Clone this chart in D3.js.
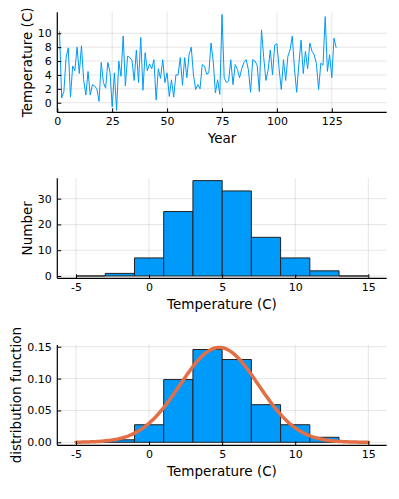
<!DOCTYPE html>
<html>
<head>
<meta charset="utf-8">
<script src="https://cdn.jsdelivr.net/npm/d3@7"></script>
<style>
  html, body { margin: 0; padding: 0; background: #fff; }
  svg { display: block; font-family: "DejaVu Sans", sans-serif; }
</style>
</head>
<body>
<svg id="chart" width="399" height="499"></svg>
<script>
// ---------- data ----------
const years = d3.range(1, 128);
const temperatures = [
  10.3, 0.7, 1.6, 6.5, 7.9, 0.8, 5.3, 4.6, 8.0, 4.2,
  8.2, 3.3, 1.1, 4.5, 1.1, 2.6, 2.4, 2.0, 0.2, 5.8,
  2.9, 2.1, 5.8, 4.4, -0.6, 4.3, -1.1, 6.0, 3.8, 9.6,
  2.4, 6.7, 6.5, 6.1, 3.2, 7.6, 2.9, 9.4, 1.8, 7.2,
  4.6, 5.6, 4.9, 6.2, 0.4, 4.9, 3.5, 6.2, 2.9, 4.3,
  0.9, 3.3, 0.8, 4.0, 4.0, 6.5, 2.5, 6.5, 3.6, 6.9,
  8.0, 4.0, 1.9, 2.6, 2.0, 5.5, 5.3, 4.1, 4.3, 8.6,
  6.0, 1.4, 3.3, 1.2, 12.7, 3.6, 2.9, 3.1, 6.2, 2.6,
  5.5, 4.8, 3.6, 4.9, 5.8, 6.2, 4.8, 1.5, 6.2, 6.0,
  5.4, 1.6, 10.5, 6.5, 3.2, 4.7, 7.6, 4.0, 8.3, 8.5,
  4.9, 1.9, 6.2, 3.2, 6.7, 7.6, 9.6, 4.9, 1.5, 5.6,
  9.0, 4.2, 7.4, 4.9, 8.6, 7.4, 6.9, 5.6, 1.9, 5.7,
  5.4, 12.4, 4.5, 6.9, 3.6, 9.3, 7.9
];
const binEdges = [-5, -3, -1, 1, 3, 5, 7, 9, 11, 13, 15];
const fitMean = 4.8;
const fitStd = 2.68;

const yearTicks = [0, 25, 50, 75, 100, 125];
const tempTicks = [0, 2, 4, 6, 8, 10];
const histXTicks = [-5, 0, 5, 10, 15];
const countTicks = [0, 10, 20, 30];
const densityTicks = [0, 0.05, 0.10, 0.15];

// ---------- style ----------
const C1 = "#009AFA", C2 = "#E26F46";
const svg = d3.select("#chart");
const X0 = 57.3, X1 = 386.7;

function panel(xScale, yScale, xTicks, yTicks, yFmt, xLabel, yLabel, yLabelX) {
  const g = svg.append("g");
  const top = yScale.range()[1], bottom = yScale.range()[0];
  // grid
  g.append("g").selectAll("line").data(xTicks).join("line")
    .attr("x1", d => xScale(d)).attr("x2", d => xScale(d))
    .attr("y1", top).attr("y2", bottom)
    .attr("stroke", "#000").attr("stroke-opacity", 0.1).attr("stroke-width", 1);
  g.append("g").selectAll("line").data(yTicks).join("line")
    .attr("x1", X0).attr("x2", X1)
    .attr("y1", d => yScale(d)).attr("y2", d => yScale(d))
    .attr("stroke", "#000").attr("stroke-opacity", 0.1).attr("stroke-width", 1);
  const marks = g.append("g");
  // axes
  const ax = g.append("g").attr("transform", `translate(0,${bottom})`)
    .call(d3.axisBottom(xScale).tickValues(xTicks).tickSize(-4).tickPadding(5).tickFormat(d3.format("d")));
  const ay = g.append("g").attr("transform", `translate(${X0},0)`)
    .call(d3.axisLeft(yScale).tickValues(yTicks).tickSize(-4).tickPadding(5.5).tickFormat(yFmt));
  [ax, ay].forEach(a => {
    a.select(".domain").remove();
    a.selectAll(".tick line").attr("stroke", "#000").attr("stroke-width", 1);
    a.selectAll("text").attr("font-size", 11).attr("fill", "#000")
      .attr("font-family", "DejaVu Sans, sans-serif");
  });
  ax.selectAll("text").text(d => d < 0 ? "-" + Math.abs(d) : d);
  // frame lines (left & bottom)
  g.append("line").attr("x1", X0).attr("x2", X1).attr("y1", bottom).attr("y2", bottom)
    .attr("stroke", "#000").attr("stroke-width", 1.2);
  g.append("line").attr("x1", X0).attr("x2", X0).attr("y1", top).attr("y2", bottom)
    .attr("stroke", "#000").attr("stroke-width", 1.2);
  // labels
  g.append("text").attr("x", (X0 + X1) / 2).attr("y", bottom + 26).attr("dy", "0.35em")
    .attr("text-anchor", "middle").attr("font-size", 13.5).text(xLabel);
  g.append("text").attr("transform", `translate(${yLabelX},${(top + bottom) / 2}) rotate(-90)`)
    .attr("dy", "0.35em").attr("text-anchor", "middle").attr("font-size", 13.5).text(yLabel);
  return marks;
}

// ---------- top: time series ----------
const xT = d3.scaleLinear().domain([0, 150]).range([X0, X1]);
const yT = d3.scaleLinear().domain([-1.38, 13.02]).range([112.3, 12.3]);
const mT = panel(xT, yT, yearTicks, tempTicks, d3.format("d"), "Year", "Temperature (C)", 27.3);
mT.append("path")
  .datum(years.map((yr, i) => [yr, temperatures[i]]))
  .attr("fill", "none").attr("stroke", C1).attr("stroke-width", 1)
  .attr("d", d3.line().x(d => xT(d[0])).y(d => yT(d[1])));

// ---------- histogram ----------
const bins = d3.bin().domain([binEdges[0], binEdges[binEdges.length - 1]])
  .thresholds(binEdges.slice(1, -1))(temperatures);
const N = temperatures.length;

const xH = d3.scaleLinear().domain([-6.28, 16.26]).range([X0, X1]);
const yH = d3.scaleLinear().domain([-0.9, 37.9]).range([278.3, 178.3]);
const mH = panel(xH, yH, histXTicks, countTicks, d3.format("d"), "Temperature (C)", "Number", 27.3);
const barPath = (xs, ys, v) => d => {
  const x0 = xs(d.x0), x1 = xs(d.x1), y0 = ys(0), y1 = ys(v(d));
  return `M${x0},${y0}V${y1}H${x1}V${y0}Z`;
};
mH.selectAll("path").data(bins).join("path")
  .attr("d", barPath(xH, yH, d => d.length))
  .attr("fill", C1).attr("stroke", "#222").attr("stroke-width", 1);

// ---------- density ----------
const xD = d3.scaleLinear().domain([-6.28, 16.26]).range([X0, X1]);
const yD = d3.scaleLinear().domain([-0.0047, 0.1527]).range([445.3, 345]);
const mD = panel(xD, yD, histXTicks, densityTicks, d3.format(".2f"), "Temperature (C)", "distribution function", 16.7);
mD.selectAll("path.bar").data(bins).join("path").attr("class", "bar")
  .attr("d", barPath(xD, yD, d => d.length / (N * (d.x1 - d.x0))))
  .attr("fill", C1).attr("stroke", "#222").attr("stroke-width", 1);
const pdf = x => Math.exp(-0.5 * ((x - fitMean) / fitStd) ** 2) / (fitStd * Math.sqrt(2 * Math.PI));
const curveX = d3.range(-5, 15.001, 0.1);
mD.append("path").datum(curveX)
  .attr("fill", "none").attr("stroke", C2).attr("stroke-width", 3.5)
  .attr("stroke-linecap", "round")
  .attr("d", d3.line().x(d => xD(d)).y(d => yD(pdf(d))));
</script>
</body>
</html>
